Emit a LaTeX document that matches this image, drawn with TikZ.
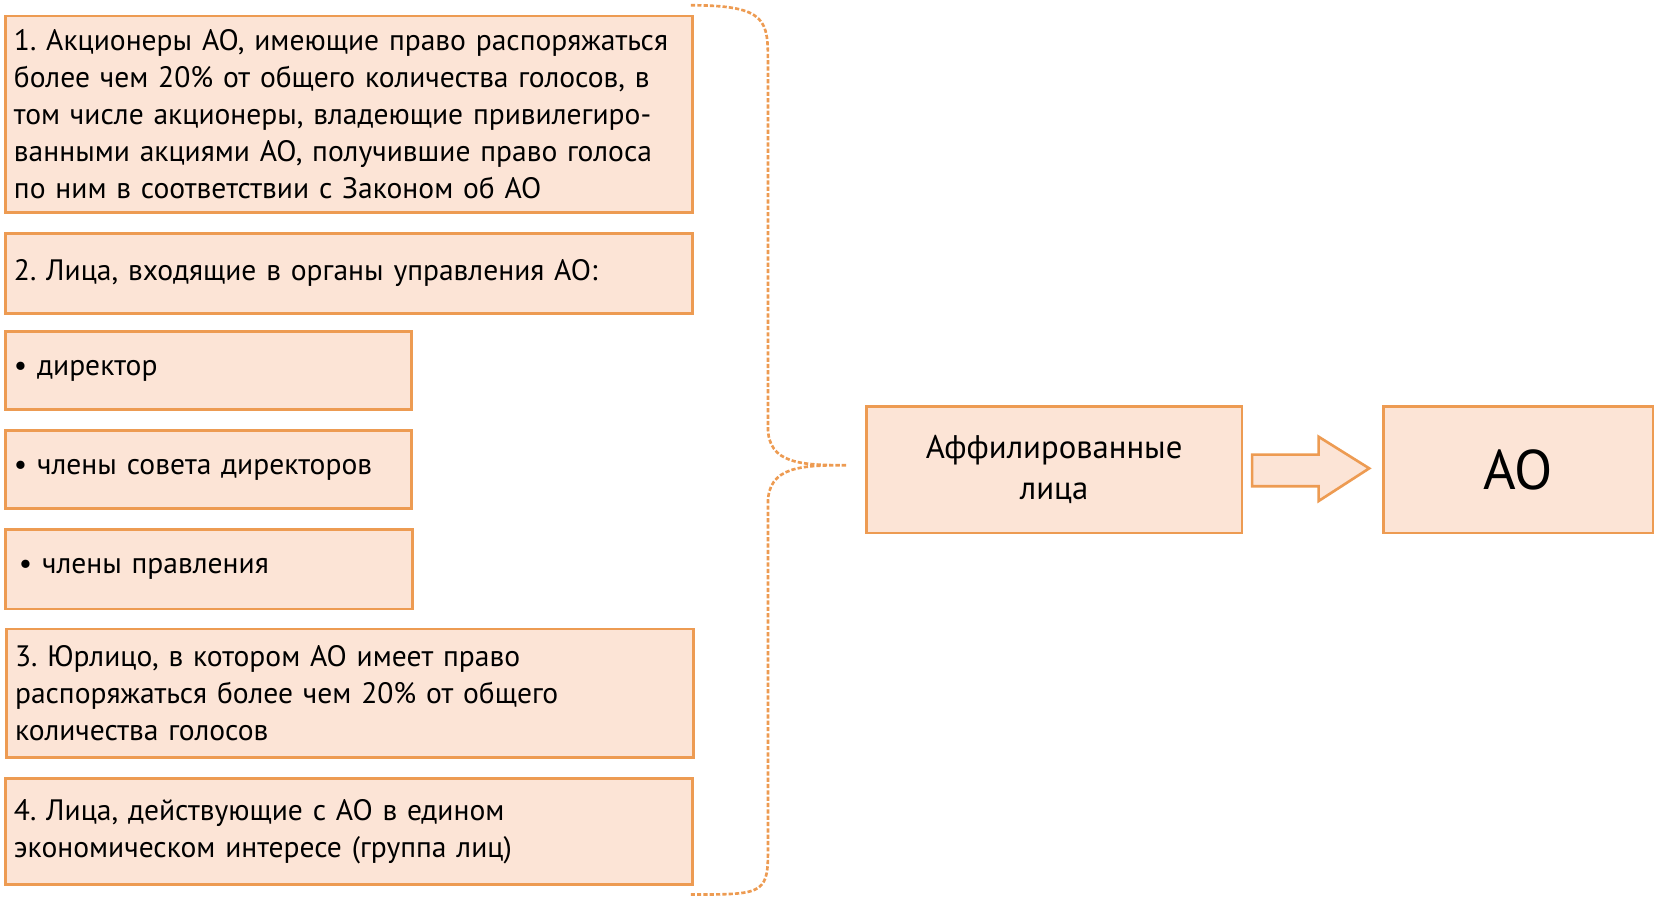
\documentclass[tikz,border=0pt]{standalone}
\usepackage{fontspec}
\setmainfont{PT Sans}
\frenchspacing
\definecolor{boxfill}{HTML}{FCE4D6}
\definecolor{boxline}{HTML}{ED9B52}
\tikzset{
  box/.style={draw=boxline, line width=2.5pt, fill=boxfill, anchor=north west,
    align=left, inner xsep=8pt, font=\fontsize{28}{35}\selectfont},
}
\begin{document}
\begin{tikzpicture}[x=1pt,y=-1pt]
\useasboundingbox (0,0) rectangle (1568,851);
% left column
\node[box, text width=635pt, minimum height=186pt] (b1) at (4,14)
  {1. Акционеры АО, имеющие право распоряжаться\\более чем 20\% от общего количества голосов, в\\том числе акционеры, владеющие привилегиро-\\ванными акциями АО, получившие право голоса\\по ним в соответствии с Законом об АО};
\node[box, text width=635pt, minimum height=76pt] (b2) at (4,220)
  {2. Лица, входящие в органы управления АО:};
\node[box, text width=369pt, minimum height=74pt] (b3) at (4,313)
  {\textbullet\ директор};
\node[box, text width=369pt, minimum height=74pt] (b4) at (4,407)
  {\textbullet\ члены совета директоров};
\node[box, text width=370pt, minimum height=75pt] (b5) at (4,501)
  {\,\textbullet\ члены правления};
\node[box, text width=635pt, minimum height=122pt] (b6) at (5,595)
  {3. Юрлицо, в котором АО имеет право\\распоряжаться более чем 20\% от общего\\количества голосов};
\node[box, text width=635pt, minimum height=100pt] (b7) at (4,737)
  {4. Лица, действующие с АО в едином\\экономическом интересе (группа лиц)};
% right part
\node[box, text width=340pt, minimum height=120pt, align=center,
  font=\fontsize{31}{39}\selectfont] (aff) at (820,384)
  {Аффилированные\\лица};
\node[box, text width=240pt, minimum height=120pt, align=center,
  font=\fontsize{53}{60}\selectfont] (ao) at (1310,384) {АО};
% brace
\coordinate (btop) at (655,5);
\coordinate (bbot) at (655,848);
\coordinate (btip) at (803,441);
\draw[boxline, line width=2.5pt, dashed, dash pattern=on 4pt off 2pt]
  (btop) .. controls (728,5) and (728,20) .. (728,60) -- (728,405)
  .. controls (728,440) and (760,441) .. (btip)
  .. controls (760,441) and (728,442) .. (728,477) -- (728,810)
  .. controls (728,848) and (720,848) .. (bbot);
% arrow
\draw[boxline, line width=2.5pt, fill=boxfill, line join=miter]
  (1187,431) -- (1250,431) -- (1250,414) -- (1298,444) -- (1250,475)
  -- (1250,461) -- (1187,461) -- cycle;
\end{tikzpicture}
\end{document}
